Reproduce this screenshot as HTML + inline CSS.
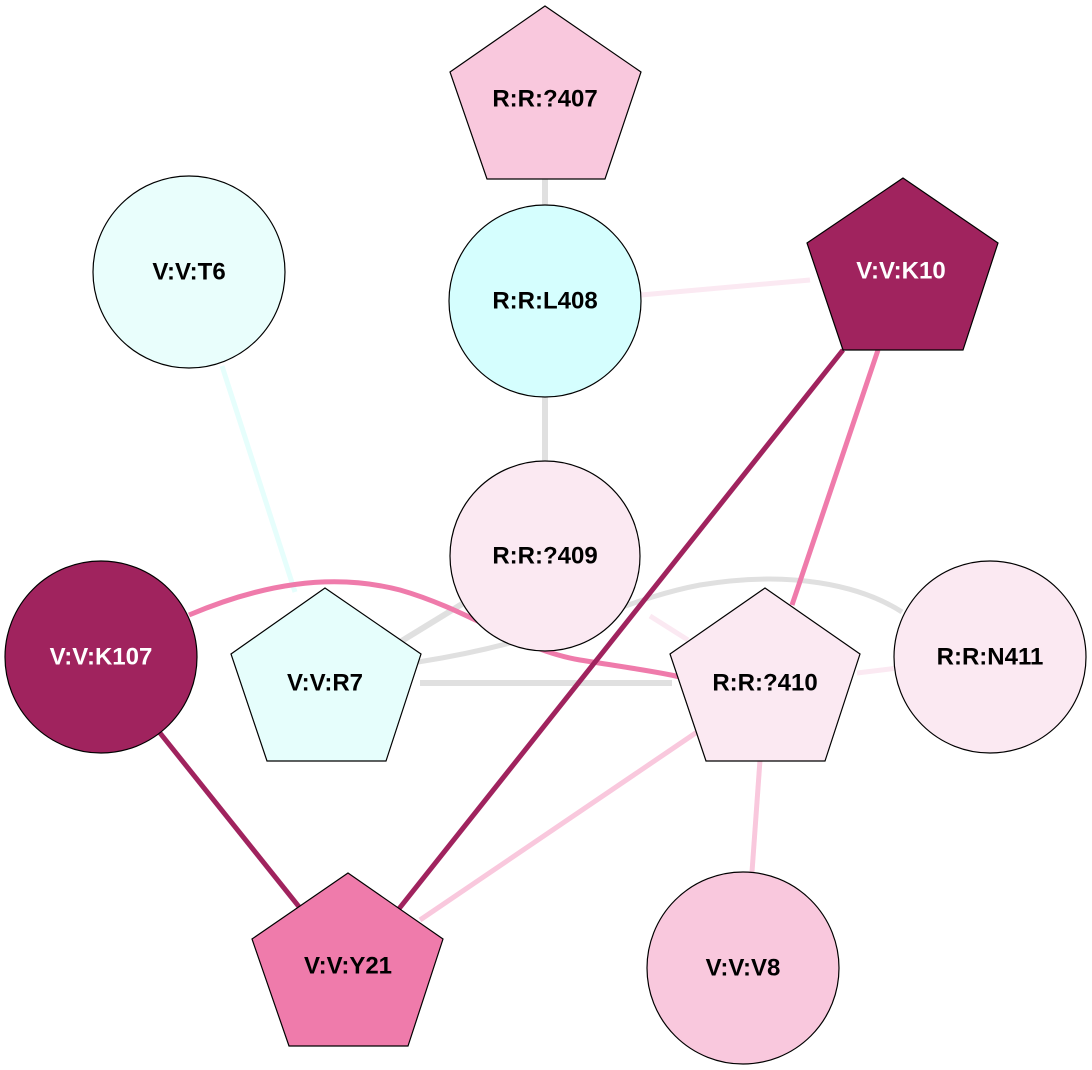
<!DOCTYPE html>
<html><head><meta charset="utf-8"><style>
html,body{margin:0;padding:0;background:#fff;}
svg{display:block;}
text{font-family:"Liberation Sans",Arial,sans-serif;font-weight:bold;font-size:24px;text-anchor:middle;dominant-baseline:central;}
</style></head><body>
<svg width="1092" height="1070" viewBox="0 0 1092 1070">
<g fill="none" stroke-linecap="butt">
<line x1="545" y1="179" x2="545" y2="206" stroke="#e0e0e0" stroke-width="6"/>
<line x1="545" y1="397" x2="545" y2="461" stroke="#e0e0e0" stroke-width="6"/>
<line x1="641" y1="295" x2="810" y2="280" stroke="#fbe9f2" stroke-width="5"/>
<line x1="222" y1="366" x2="295" y2="592" stroke="#e6fefc" stroke-width="5"/>
<path d="M420,683 L672,683" stroke="#e0e0e0" stroke-width="6"/>
<path d="M400,642 L462,604" stroke="#e0e0e0" stroke-width="6"/>
<path d="M418,662 C560,640 620,600 700,585 C790,570 860,585 902,612" stroke="#e0e0e0" stroke-width="5"/>
<line x1="650" y1="616" x2="688" y2="640" stroke="#fbe9f2" stroke-width="5"/>
<line x1="857" y1="673" x2="898" y2="668" stroke="#fbe9f2" stroke-width="5"/>
<path d="M189,615 C260,585 330,572 400,590 C470,610 520,650 580,660 C630,668 660,672 680,677" stroke="#ef7bab" stroke-width="5"/>
<line x1="878" y1="350" x2="792" y2="605" stroke="#ef7bab" stroke-width="5"/>
<line x1="700" y1="730" x2="420" y2="920" stroke="#f9c8dd" stroke-width="5"/>
<line x1="760" y1="760" x2="752" y2="872" stroke="#f9c8dd" stroke-width="5"/>
<line x1="843" y1="350" x2="398" y2="910" stroke="#a0235e" stroke-width="5"/>
<line x1="160" y1="733" x2="300" y2="908" stroke="#a0235e" stroke-width="5"/>
</g>
<g stroke="#000" stroke-width="1.2">
<polygon points="545,6 641,72 605,179 487,179 450,72" fill="#f9c8dd"/>
<circle cx="189" cy="272" r="96" fill="#e9fefc"/>
<circle cx="545" cy="301" r="96" fill="#d5fefe"/>
<polygon points="903,178 998,243 963,350 843,350 807,243" fill="#a0235e"/>
<circle cx="545" cy="556" r="95" fill="#fbe9f2"/>
<circle cx="101" cy="657" r="96" fill="#a0235e"/>
<polygon points="325,588 421,654 386,761 267,761 231,654" fill="#e6fefc"/>
<polygon points="765,588 860,654 825,761 706,761 670,654" fill="#fbe9f2"/>
<circle cx="990" cy="657" r="96" fill="#fbe9f2"/>
<polygon points="348,873 443,939 408,1046 289,1046 252,939" fill="#ef7bab"/>
<circle cx="743" cy="968" r="96" fill="#f9c8dd"/>
</g>
<text x="545" y="99">R:R:?407</text>
<text x="189" y="272">V:V:T6</text>
<text x="545" y="301">R:R:L408</text>
<text x="901" y="271" fill="#fff">V:V:K10</text>
<text x="545" y="556">R:R:?409</text>
<text x="101" y="657" fill="#fff">V:V:K107</text>
<text x="325" y="683">V:V:R7</text>
<text x="765" y="683">R:R:?410</text>
<text x="990" y="657">R:R:N411</text>
<text x="348" y="966">V:V:Y21</text>
<text x="743" y="968">V:V:V8</text>
</svg>
</body></html>
